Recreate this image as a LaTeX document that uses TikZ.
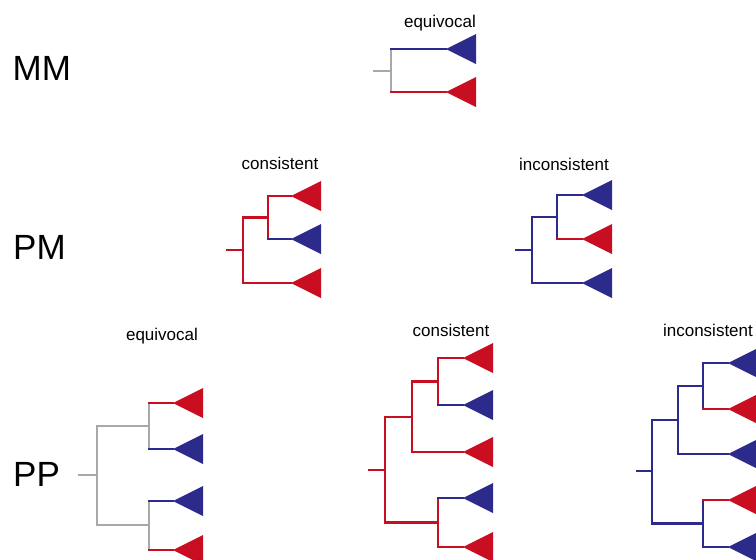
\documentclass[tikz,border=0pt]{standalone}
\usepackage{fontspec}
\setmainfont{Liberation Sans}
\usetikzlibrary{positioning, shapes.geometric}
\definecolor{stateblue}{RGB}{44,42,138}
\definecolor{statered}{RGB}{200,14,32}
\definecolor{stategrey}{RGB}{168,168,168}

\begin{document}
\begin{tikzpicture}[
    x=1pt, y=-1pt,
    edge/.style={line width=2.2pt, line cap=rect},
    leaf/.style={
        isosceles triangle,
        isosceles triangle stretches,
        shape border rotate=180,
        minimum width=30pt,
        minimum height=30pt,
        inner sep=0pt, outer sep=0pt,
        anchor=apex
    },
    bleaf/.style={leaf, fill=stateblue},
    rleaf/.style={leaf, fill=statered},
    model/.style={font=\fontsize{35}{40}\selectfont, inner sep=0pt, anchor=west},
    verdict/.style={font=\fontsize{17}{20}\selectfont, inner sep=0pt, anchor=base}
]
\useasboundingbox (0,0) rectangle (756,560);
\clip (0,0) rectangle (756,560);

% ======================
% Row labels
% ======================
\node[model] (mm_label) at (12.5,68) {MM};
\node[model] (pm_label) at (13,247) {PM};
\node[model] (pp_label) at (13,474) {PP};

% ======================
% MM equivocal
% ======================
\node[verdict] (mm_title) at (440,27) {equivocal};
\coordinate (mm_stub) at (374,71);
\coordinate (mm_root) at (391,71);
\node[bleaf] (mm_a) at (446,49) {};
\node[rleaf] (mm_b) at (446,92) {};

\draw[edge, stategrey] (mm_stub) -- (mm_root);
\draw[edge, stategrey] (mm_root |- mm_a.apex) -- (mm_root |- mm_b.apex);
\draw[edge, stateblue] (mm_root |- mm_a.apex) -- (mm_a.apex);
\draw[edge, statered] (mm_root |- mm_b.apex) -- (mm_b.apex);

% ======================
% PM consistent
% ======================
\node[verdict] (pmc_title) at (280,169) {consistent};
\coordinate (pmc_stub) at (227,250);
\coordinate (pmc_root) at (243,250);
\coordinate (pmc_in) at (268,217.5);
\node[rleaf] (pmc_a) at (291,196) {};
\node[bleaf] (pmc_b) at (291,239) {};
\node[rleaf] (pmc_c) at (291,283) {};

\draw[edge, statered] (pmc_stub) -- (pmc_root);
\draw[edge, statered] (pmc_root |- pmc_in) -- (pmc_root |- pmc_c.apex);
\draw[edge, statered] (pmc_root |- pmc_in) -- (pmc_in);
\draw[edge, statered] (pmc_root |- pmc_c.apex) -- (pmc_c.apex);
\draw[edge, statered] (pmc_in |- pmc_a.apex) -- (pmc_in |- pmc_b.apex);
\draw[edge, statered] (pmc_in |- pmc_a.apex) -- (pmc_a.apex);
\draw[edge, stateblue] (pmc_in |- pmc_b.apex) -- (pmc_b.apex);

% ======================
% PM inconsistent
% ======================
\node[verdict] (pmi_title) at (564,170) {inconsistent};
\coordinate (pmi_stub) at (516,250);
\coordinate (pmi_root) at (532,250);
\coordinate (pmi_in) at (557,217);
\node[bleaf] (pmi_a) at (582,195) {};
\node[rleaf] (pmi_b) at (582,239) {};
\node[bleaf] (pmi_c) at (582,283) {};

\draw[edge, stateblue] (pmi_stub) -- (pmi_root);
\draw[edge, stateblue] (pmi_root |- pmi_in) -- (pmi_root |- pmi_c.apex);
\draw[edge, stateblue] (pmi_root |- pmi_in) -- (pmi_in);
\draw[edge, stateblue] (pmi_root |- pmi_c.apex) -- (pmi_c.apex);
\draw[edge, stateblue] (pmi_in |- pmi_a.apex) -- (pmi_in |- pmi_b.apex);
\draw[edge, stateblue] (pmi_in |- pmi_a.apex) -- (pmi_a.apex);
\draw[edge, statered] (pmi_in |- pmi_b.apex) -- (pmi_b.apex);

% ======================
% PP equivocal
% ======================
\node[verdict] (ppe_title) at (162,340) {equivocal};
\coordinate (ppe_stub) at (79,475);
\coordinate (ppe_root) at (97,475);
\coordinate (ppe_up) at (149,426);
\coordinate (ppe_dn) at (149,525);
\node[rleaf] (ppe_a) at (173,403) {};
\node[bleaf] (ppe_b) at (173,449) {};
\node[bleaf] (ppe_c) at (173,501) {};
\node[rleaf] (ppe_d) at (173,550) {};

\draw[edge, stategrey] (ppe_stub) -- (ppe_root);
\draw[edge, stategrey] (ppe_root |- ppe_up) -- (ppe_root |- ppe_dn);
\draw[edge, stategrey] (ppe_root |- ppe_up) -- (ppe_up);
\draw[edge, stategrey] (ppe_root |- ppe_dn) -- (ppe_dn);
\draw[edge, stategrey] (ppe_up |- ppe_a.apex) -- (ppe_up |- ppe_b.apex);
\draw[edge, stategrey] (ppe_dn |- ppe_c.apex) -- (ppe_dn |- ppe_d.apex);
\draw[edge, statered] (ppe_up |- ppe_a.apex) -- (ppe_a.apex);
\draw[edge, stateblue] (ppe_up |- ppe_b.apex) -- (ppe_b.apex);
\draw[edge, stateblue] (ppe_dn |- ppe_c.apex) -- (ppe_c.apex);
\draw[edge, statered] (ppe_dn |- ppe_d.apex) -- (ppe_d.apex);

% ======================
% PP consistent
% ======================
\node[verdict] (ppc_title) at (451,336) {consistent};
\coordinate (ppc_stub) at (369,470);
\coordinate (ppc_root) at (385,470);
\coordinate (ppc_up) at (412,417);
\coordinate (ppc_top) at (438,381.5);
\coordinate (ppc_dn) at (438,522.5);
\node[rleaf] (ppc_a) at (463,358) {};
\node[bleaf] (ppc_b) at (463,405) {};
\node[rleaf] (ppc_c) at (463,452) {};
\node[bleaf] (ppc_d) at (463,498) {};
\node[rleaf] (ppc_e) at (463,547) {};

\draw[edge, statered] (ppc_stub) -- (ppc_root);
\draw[edge, statered] (ppc_root |- ppc_up) -- (ppc_root |- ppc_dn);
\draw[edge, statered] (ppc_root |- ppc_up) -- (ppc_up);
\draw[edge, statered] (ppc_root |- ppc_dn) -- (ppc_dn);
\draw[edge, statered] (ppc_up |- ppc_top) -- (ppc_up |- ppc_c.apex);
\draw[edge, statered] (ppc_up |- ppc_top) -- (ppc_top);
\draw[edge, statered] (ppc_up |- ppc_c.apex) -- (ppc_c.apex);
\draw[edge, statered] (ppc_top |- ppc_a.apex) -- (ppc_top |- ppc_b.apex);
\draw[edge, statered] (ppc_top |- ppc_a.apex) -- (ppc_a.apex);
\draw[edge, stateblue] (ppc_top |- ppc_b.apex) -- (ppc_b.apex);
\draw[edge, statered] (ppc_dn |- ppc_d.apex) -- (ppc_dn |- ppc_e.apex);
\draw[edge, stateblue] (ppc_dn |- ppc_d.apex) -- (ppc_d.apex);
\draw[edge, statered] (ppc_dn |- ppc_e.apex) -- (ppc_e.apex);

% ======================
% PP inconsistent
% ======================
\node[verdict] (ppi_title) at (708,336) {inconsistent};
\coordinate (ppi_stub) at (637,471);
\coordinate (ppi_root) at (652,471);
\coordinate (ppi_up) at (678,420);
\coordinate (ppi_top) at (703,386);
\coordinate (ppi_dn) at (703,523.5);
\node[bleaf] (ppi_a) at (728,363) {};
\node[rleaf] (ppi_b) at (728,409) {};
\node[bleaf] (ppi_c) at (728,454) {};
\node[rleaf] (ppi_d) at (728,500) {};
\node[bleaf] (ppi_e) at (728,547) {};

\draw[edge, stateblue] (ppi_stub) -- (ppi_root);
\draw[edge, stateblue] (ppi_root |- ppi_up) -- (ppi_root |- ppi_dn);
\draw[edge, stateblue] (ppi_root |- ppi_up) -- (ppi_up);
\draw[edge, stateblue] (ppi_root |- ppi_dn) -- (ppi_dn);
\draw[edge, stateblue] (ppi_up |- ppi_top) -- (ppi_up |- ppi_c.apex);
\draw[edge, stateblue] (ppi_up |- ppi_top) -- (ppi_top);
\draw[edge, stateblue] (ppi_up |- ppi_c.apex) -- (ppi_c.apex);
\draw[edge, stateblue] (ppi_top |- ppi_a.apex) -- (ppi_top |- ppi_b.apex);
\draw[edge, stateblue] (ppi_top |- ppi_a.apex) -- (ppi_a.apex);
\draw[edge, statered] (ppi_top |- ppi_b.apex) -- (ppi_b.apex);
\draw[edge, stateblue] (ppi_dn |- ppi_d.apex) -- (ppi_dn |- ppi_e.apex);
\draw[edge, statered] (ppi_dn |- ppi_d.apex) -- (ppi_d.apex);
\draw[edge, stateblue] (ppi_dn |- ppi_e.apex) -- (ppi_e.apex);

\end{tikzpicture}
\end{document}
